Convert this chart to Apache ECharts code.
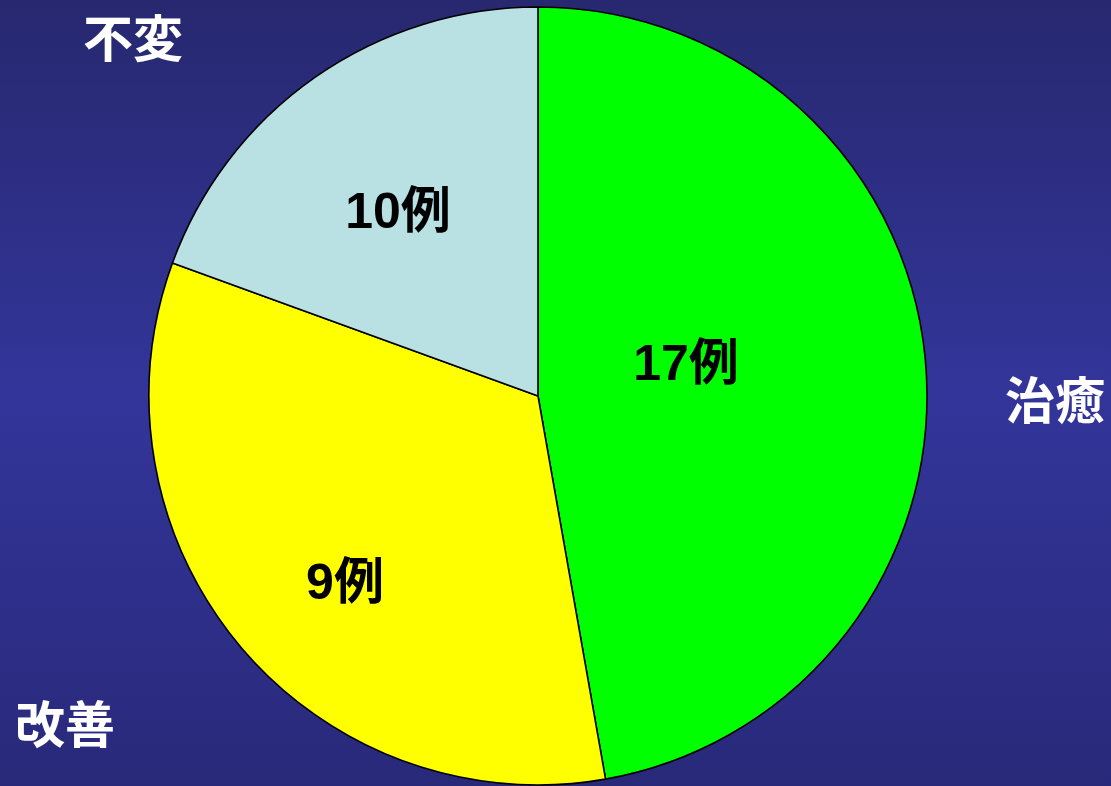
<!DOCTYPE html>
<html><head><meta charset="utf-8">
<script src="https://cdn.jsdelivr.net/npm/echarts@6/dist/echarts.min.js"></script>
<style>html,body{margin:0;padding:0;}#c{width:1111px;height:786px;}</style>
</head><body><div id="c"></div>
<script>
// Data
const categories = ['治癒', '改善', '不変'];
const sliceShares = [17, 12, 7];          // slice sizes as drawn in the picture
const labelTexts = ['17例', '9例', '10例'];  // labels written on slices

// Styles
const colors = ['#00ff00', '#ffff00', '#b9e0e3'];
const innerLabelPos = [[686, 366], [345, 585], [398, 214]];
const outerLabelPos = [[1055, 400], [65, 724], [133, 38]];

const chart = echarts.init(document.getElementById('c'));
chart.setOption({
  backgroundColor: new echarts.graphic.LinearGradient(0, 0, 0, 1, [
    {offset: 0, color: '#27286f'},
    {offset: 0.5, color: '#33359a'},
    {offset: 1, color: '#29297a'}
  ]),
  animation: false,
  series: [{
    type: 'pie',
    center: [538, 396],
    radius: 389,
    startAngle: 90,
    clockwise: true,
    data: categories.map((c, i) => ({
      name: c, value: sliceShares[i],
      itemStyle: {color: colors[i]}
    })),
    itemStyle: {borderColor: '#000', borderWidth: 1.6},
    label: {
      show: true, position: 'inside',
      formatter: p => labelTexts[p.dataIndex],
      color: '#000', fontSize: 50, fontWeight: 'bold',
      fontFamily: '"Liberation Sans", "Noto Sans CJK JP", sans-serif'
    },
    labelLine: {show: false},
    labelLayout: p => ({
      x: innerLabelPos[p.dataIndex][0], y: innerLabelPos[p.dataIndex][1],
      align: 'center', verticalAlign: 'middle'
    }),
    emphasis: {disabled: true}
  }],
  graphic: categories.map((c, i) => ({
    type: 'text',
    x: outerLabelPos[i][0], y: outerLabelPos[i][1],
    style: {
      text: c, fill: '#fff', fontSize: 50, fontWeight: 'bold',
      fontFamily: '"Noto Sans CJK JP", sans-serif',
      textAlign: 'center', textVerticalAlign: 'middle'
    }
  }))
});
</script></body></html>
